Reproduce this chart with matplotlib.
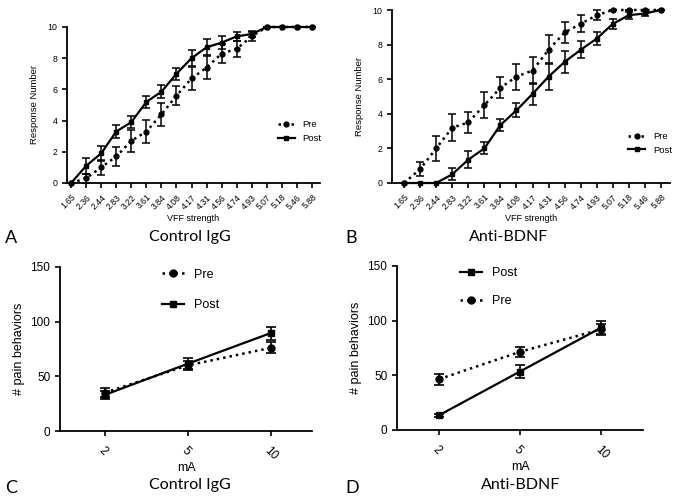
import matplotlib
matplotlib.use("Agg")
import matplotlib.pyplot as plt
from matplotlib.lines import Line2D
import numpy as np

plt.rcParams['font.family'] = ['Liberation Sans', 'DejaVu Sans']

vff = ["1.65", "2.36", "2.44", "2.83", "3.22", "3.61", "3.84", "4.08", "4.17",
       "4.31", "4.56", "4.74", "4.93", "5.07", "5.18", "5.46", "5.88"]

# Panel A (Control IgG)
a_pre = [0, 0.3, 1.0, 1.7, 2.7, 3.3, 4.4, 5.6, 6.7, 7.4, 8.3, 8.6, 9.4, 10, 10, 10, 10]
a_pre_err = [0, 0.3, 0.5, 0.6, 0.7, 0.75, 0.75, 0.6, 0.75, 0.75, 0.6, 0.5, 0.3, 0, 0, 0, 0]
a_post = [0, 1.1, 1.9, 3.3, 3.9, 5.2, 5.85, 7.0, 8.0, 8.7, 9.0, 9.4, 9.55, 10, 10, 10, 10]
a_post_err = [0, 0.5, 0.5, 0.4, 0.4, 0.4, 0.4, 0.4, 0.5, 0.5, 0.4, 0.3, 0.2, 0, 0, 0, 0]

# Panel B (Anti-BDNF)
b_pre = [0, 0.8, 2.0, 3.2, 3.5, 4.5, 5.5, 6.15, 6.5, 7.7, 8.7, 9.2, 9.7, 10, 10, 10, 10]
b_pre_err = [0, 0.4, 0.7, 0.8, 0.6, 0.75, 0.6, 0.75, 0.8, 0.85, 0.6, 0.5, 0.3, 0, 0, 0, 0]
b_post = [0, 0, 0, 0.5, 1.35, 2.0, 3.35, 4.2, 5.15, 6.15, 7.0, 7.7, 8.35, 9.2, 9.7, 9.8, 10]
b_post_err = [0, 0, 0, 0.35, 0.5, 0.35, 0.35, 0.4, 0.65, 0.8, 0.65, 0.5, 0.4, 0.3, 0.2, 0.15, 0]

ma = ["2", "5", "10"]
c_pre = [35, 60, 76]
c_pre_err = [4, 4, 5]
c_post = [33, 61.5, 89.5]
c_post_err = [4, 5, 6]

d_pre = [46.5, 71.5, 92]
d_pre_err = [5, 4.5, 5]
d_post = [13.5, 53.5, 93.5]
d_post_err = [1.5, 6, 6]

W, H = 676, 501
fig = plt.figure(figsize=(W / 100, H / 100), dpi=100)


def box(l, t, r, b):
    return [l / W, 1 - b / H, (r - l) / W, (b - t) / H]


DOT = (0, (1, 1.6))


def style(ax):
    for s in ['top', 'right']:
        ax.spines[s].set_visible(False)
    for s in ['left', 'bottom']:
        ax.spines[s].set_linewidth(1.3)
    ax.tick_params(width=1.2, length=3.5, direction='out')


def handles(ms):
    pre = Line2D([], [], color='black', lw=1.8, ls=DOT, marker='o', ms=ms)
    post = Line2D([], [], color='black', lw=1.6, ls='-', marker='s', ms=ms)
    return pre, post


def draw_vff(ax, pre, pre_err, post, post_err, xlim):
    x = np.arange(len(vff))
    ax.errorbar(x, pre, yerr=pre_err, color='black', lw=1.8, ls=DOT,
                marker='o', ms=3.5, capsize=3, elinewidth=1.1,
                capthick=1.1, clip_on=False)
    ax.errorbar(x, post, yerr=post_err, color='black', lw=1.6, ls='-',
                marker='s', ms=3.5, capsize=3, elinewidth=1.1,
                capthick=1.1, clip_on=False)
    ax.set_xlim(*xlim)
    ax.set_ylim(0, 10)
    ax.set_yticks([0, 2, 4, 6, 8, 10])
    ax.set_xticks(x)
    ax.set_xticklabels(vff, rotation=45, ha='right', rotation_mode='anchor', fontsize=6.2)
    ax.tick_params(axis='y', labelsize=6.3)
    ax.set_xlabel('VFF strength', fontsize=6.5, labelpad=2)
    ax.set_ylabel('Response Number', fontsize=6.8, labelpad=6)
    style(ax)


def draw_ma(ax, pre, pre_err, post, post_err, xlim):
    x = np.arange(len(ma))
    ax.errorbar(x, pre, yerr=pre_err, color='black', lw=1.8, ls=DOT,
                marker='o', ms=5, capsize=3.5, elinewidth=1.2, capthick=1.2)
    ax.errorbar(x, post, yerr=post_err, color='black', lw=1.6, ls='-',
                marker='s', ms=5, capsize=3.5, elinewidth=1.2, capthick=1.2)
    ax.set_xlim(*xlim)
    ax.set_ylim(0, 150)
    ax.set_yticks([0, 50, 100, 150])
    ax.set_xticks(x)
    ax.set_xticklabels(ma, rotation=-45, ha='left', rotation_mode='anchor', fontsize=8.5)
    ax.tick_params(axis='y', labelsize=8.5)
    ax.tick_params(axis='x', pad=6)
    ax.set_xlabel('mA', fontsize=9, labelpad=0)
    ax.set_ylabel('# pain behaviors', fontsize=9, labelpad=4)
    style(ax)


axA = fig.add_axes(box(67, 27, 320, 183))
draw_vff(axA, a_pre, a_pre_err, a_post, a_post_err, (-0.27, 16.53))
pA, qA = handles(3.5)
axA.legend([pA, qA], ['Pre', 'Post'], loc='center left',
           bbox_to_anchor=(0.80, 0.33), frameon=False, fontsize=6.8,
           handlelength=1.8, labelspacing=0.5)

axB = fig.add_axes(box(392, 10, 670, 183))
draw_vff(axB, b_pre, b_pre_err, b_post, b_post_err, (-0.75, 16.56))
pB, qB = handles(3.5)
axB.legend([pB, qB], ['Pre', 'Post'], loc='center left',
           bbox_to_anchor=(0.82, 0.23), frameon=False, fontsize=6.8,
           handlelength=1.8, labelspacing=0.5)

axC = fig.add_axes(box(60, 267, 312, 431))
draw_ma(axC, c_pre, c_pre_err, c_post, c_post_err, (-0.54, 2.5))
pC, qC = handles(5)
axC.legend([pC, qC], ['Pre', 'Post'], loc='center left',
           bbox_to_anchor=(0.36, 0.86), frameon=False, fontsize=9,
           handlelength=1.8, labelspacing=1.5)

axD = fig.add_axes(box(397, 266, 643, 430))
draw_ma(axD, d_pre, d_pre_err, d_post, d_post_err, (-0.52, 2.52))
pD, qD = handles(5)
axD.legend([qD, pD], ['Post', 'Pre'], loc='center left',
           bbox_to_anchor=(0.21, 0.87), frameon=False, fontsize=9,
           handlelength=1.8, labelspacing=1.3)

tfont = dict(fontsize=11.5, family=['Lato', 'DejaVu Sans'])
lfont = dict(fontsize=13, family=['Lato', 'DejaVu Sans'])
fig.text(5 / W, 1 - 238 / H, 'A', va='center', ha='left', **lfont)
fig.text(190 / W, 1 - 237 / H, 'Control IgG', va='center', ha='center', **tfont)
fig.text(345 / W, 1 - 238 / H, 'B', va='center', ha='left', **lfont)
fig.text(509 / W, 1 - 237 / H, 'Anti-BDNF', va='center', ha='center', **tfont)
fig.text(5 / W, 1 - 488 / H, 'C', va='center', ha='left', **lfont)
fig.text(190 / W, 1 - 485 / H, 'Control IgG', va='center', ha='center', **tfont)
fig.text(345 / W, 1 - 488 / H, 'D', va='center', ha='left', **lfont)
fig.text(521 / W, 1 - 485 / H, 'Anti-BDNF', va='center', ha='center', **tfont)

fig.savefig('out.png', dpi=100, facecolor='white')
